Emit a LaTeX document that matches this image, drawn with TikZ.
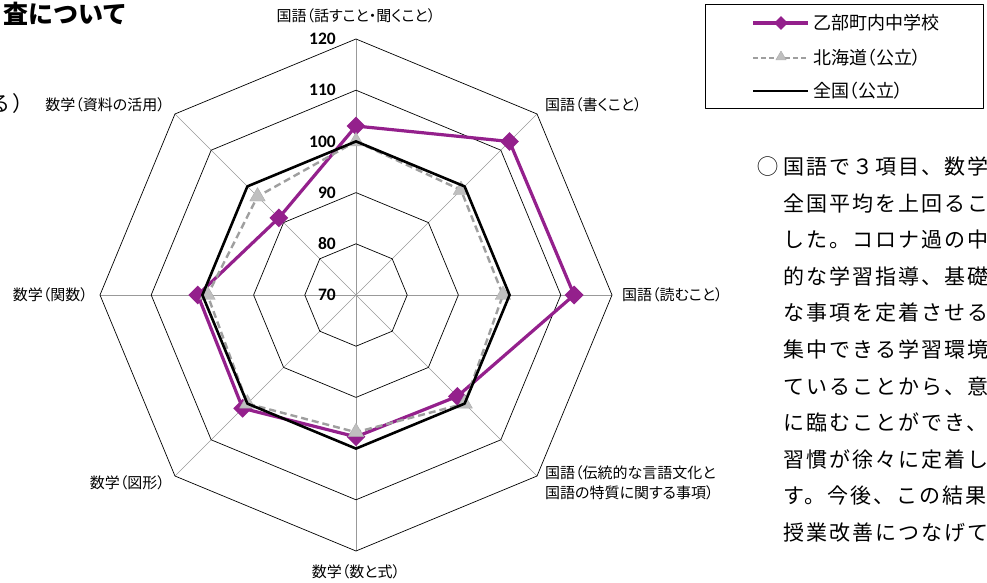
\documentclass[tikz,border=0pt]{standalone}
\usepackage{fontspec}
\usetikzlibrary{shapes.geometric}
\newfontfamily\jp{Noto Sans CJK JP}[RawFeature=+palt]
\newfontfamily\jpn{Noto Sans CJK JP}
\newfontfamily\jpm{Noto Sans CJK JP}[LetterSpace=10]
\newfontfamily\num{Carlito}
\definecolor{schoolc}{RGB}{148,32,140}
\begin{document}
\begin{tikzpicture}[x=1pt, y=1pt, line join=round,
	ring/.style={black, line width=0.7pt},
	spoke/.style={gray!80, line width=0.7pt},
	school/.style={draw=schoolc, line width=3.2pt},
	hok/.style={draw=gray!75, dash pattern=on 7pt off 4pt, line width=2.4pt},
	nat/.style={draw=black, line width=2.6pt},
	dia/.style={diamond, fill=schoolc, inner sep=0pt, minimum size=19pt},
	tri/.style={regular polygon, regular polygon sides=3, fill=gray!50, draw=gray!65, inner sep=0pt, minimum size=18pt},
	lab/.style={font=\jp\fontsize{15}{20}\selectfont, inner sep=0pt},
	leg/.style={font=\jp\fontsize{18}{20}\selectfont, inner sep=0pt, anchor=west},
	val/.style={font=\num\bfseries\fontsize{17.5}{20}\selectfont, anchor=east, inner sep=0pt},
	para/.style={font=\jpm\fontsize{21}{24}\selectfont, anchor=base west, inner sep=0pt}]
	\useasboundingbox (-356,-288) rectangle (631,295);
	\clip (-356,-288) rectangle (631,295);
	\coordinate (o) at (0,0);
	\foreach \i in {0,...,7} \draw[spoke] (o) -- ({90-45*\i}:256);
	\foreach \v in {80,90,...,120}
		\draw[ring] (90:{(\v-70)*5.12}) \foreach \i in {1,...,7} { -- ({90-45*\i}:{(\v-70)*5.12}) } -- cycle;
	\foreach \v in {70,80,...,120} \node[val] (v\v) at (-20,{(\v-70)*5.12}) {\v};
	\foreach \v [count=\i from 0] in {103,112.4,112.6,98,97.7,101.3,100.9,91.3}
		\coordinate (s\i) at ({90-45*\i}:{(\v-70)*5.12});
	\foreach \v [count=\i from 0] in {100,99,98.7,100,96.8,100,99,97.2}
		\coordinate (h\i) at ({90-45*\i}:{(\v-70)*5.12});
	\foreach \i in {0,...,7} \coordinate (n\i) at ({90-45*\i}:153.6);
	\draw[school] (s0) -- (s1) -- (s2) -- (s3) -- (s4) -- (s5) -- (s6) -- (s7) -- cycle;
	\foreach \i in {0,...,7} \node[dia] (ds\i) at (s\i) {};
	\draw[hok] (h0) -- (h1) -- (h2) -- (h3) -- (h4) -- (h5) -- (h6) -- (h7) -- cycle;
	\foreach \i in {0,...,7} \node[tri] (th\i) at (h\i) {};
	\draw[nat] (n0) -- (n1) -- (n2) -- (n3) -- (n4) -- (n5) -- (n6) -- (n7) -- cycle;
	\node[lab] (c0) at (0,279) {国語（話すこと・聞くこと）};
	\node[lab, anchor=west] (c1) at (189,190) {国語（書くこと）};
	\node[lab, anchor=west] (c2) at (266,0) {国語（読むこと）};
	\node[lab, anchor=west, align=left] (c3) at (189,-188) {国語（伝統的な言語文化と\\国語の特質に関する事項）};
	\node[lab] (c4) at (0,-277) {数学（数と式）};
	\node[lab, anchor=east] (c5) at (-191,-188) {数学（図形）};
	\node[lab, anchor=east] (c6) at (-268,0) {数学（関数）};
	\node[lab, anchor=east] (c7) at (-191,190) {数学（資料の活用）};
	\draw[line width=0.8pt] (349,187) rectangle (627,291);
	\coordinate (la1) at (397,272); \coordinate (lb1) at (452,272);
	\coordinate (la2) at (397,237); \coordinate (lb2) at (452,237);
	\coordinate (la3) at (397,204); \coordinate (lb3) at (452,204);
	\draw[school] (la1) -- (lb1);
	\node[dia, minimum size=14pt] (ld1) at (425,272) {};
	\draw[hok, line width=2pt, dash pattern=on 5pt off 3pt] (la2) -- (lb2);
	\node[tri, minimum size=12pt] (ld2) at (425,238) {};
	\draw[draw=black, line width=2pt] (la3) -- (lb3);
	\node[leg] (lt1) at (457,272) {乙部町内中学校};
	\node[leg] (lt2) at (457,237) {北海道（公立）};
	\node[leg] (lt3) at (457,204) {全国（公立）};
	\node[anchor=west, font=\jpn\bfseries\fontsize{25}{30}\selectfont, inner sep=0pt] (title) at (-353,281) {査について};
	\node[para] (prev) at (-367,183) {る）};
	\node[para] (bullet) at (401,120) {◯};
	\foreach \ln [count=\k from 0] in {{国語で３項目、数学},{全国平均を上回るこ},{した。コロナ過の中},{的な学習指導、基礎},{な事項を定着させる},{集中できる学習環境},{ていることから、意},{に臨むことができ、},{習慣が徐々に定着し},{す。今後、この結果},{授業改善につなげて}}
		\node[para] (t\k) at (427,{120-36.5*\k}) {\ln};
\end{tikzpicture}
\end{document}
